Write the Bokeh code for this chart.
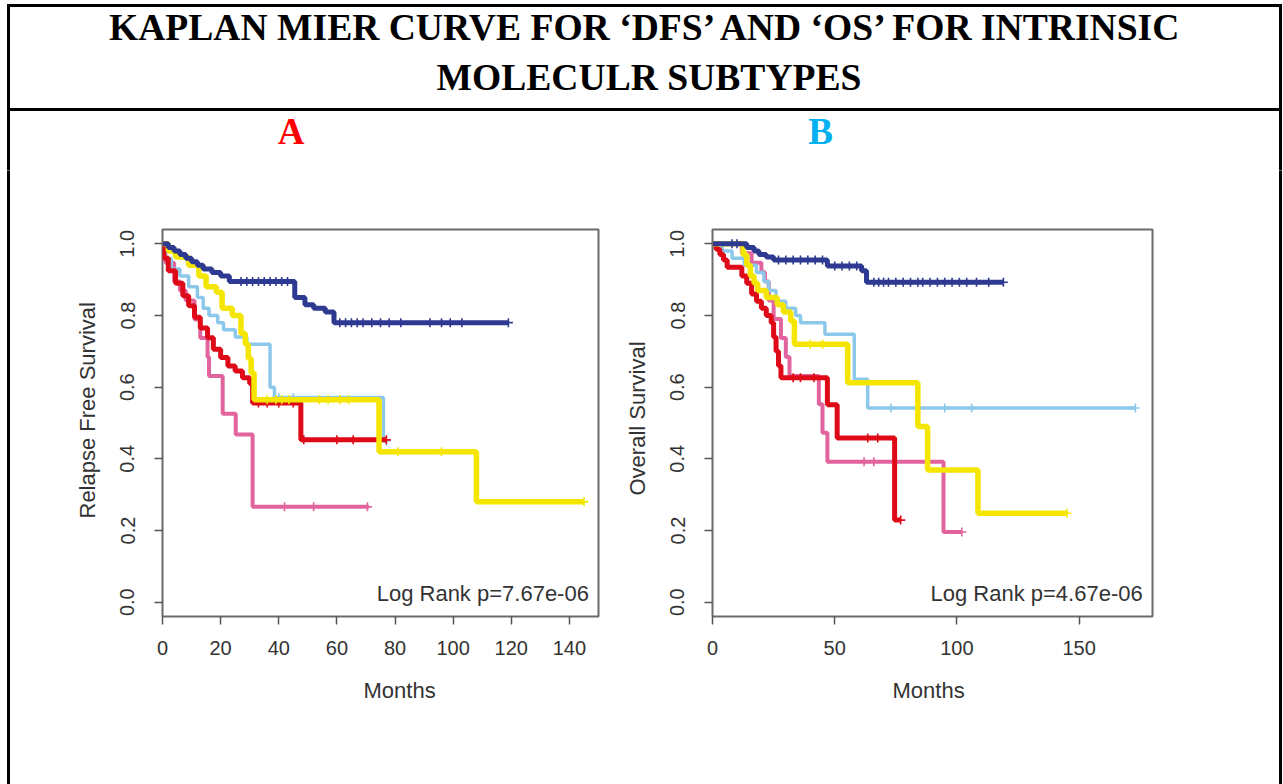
import numpy as np
from bokeh.plotting import figure
from bokeh.models import Range1d, FixedTicker, PrintfTickFormatter, Title
from bokeh.layouts import column, row
from bokeh.core.properties import value
from bokeh.embed import file_html
from bokeh.resources import INLINE

# ---------------- data ----------------
title_lines = ["KAPLAN MIER CURVE FOR \u2018DFS\u2019 AND \u2018OS\u2019 FOR INTRINSIC", "MOLECULR SUBTYPES"]
panel_labels = ["A", "B"]

# Panel A : Relapse free survival
navy_A_t = [0, 2, 4, 6, 8, 10, 12, 14, 17, 20, 23, 45.5, 49, 52, 56, 59]
navy_A_s = [1.0, 0.99, 0.98, 0.97, 0.96, 0.95, 0.94, 0.93, 0.92, 0.91, 0.895, 0.85, 0.83, 0.82, 0.81, 0.78]
navy_A_end = 119
navy_A_c = [27, 29, 31, 33, 35, 37, 39, 41, 43, 61, 63, 65, 67, 69, 72, 75, 78, 82, 92, 96, 99, 103, 119]

sky_A_t = [0, 1, 3, 6, 9, 12, 14, 16, 19, 21, 25, 29, 37, 38.5, 76]
sky_A_s = [1.0, 0.96, 0.93, 0.91, 0.88, 0.85, 0.82, 0.80, 0.78, 0.76, 0.74, 0.72, 0.60, 0.571, 0.45]
sky_A_end = 77
sky_A_c = [40, 45, 77]

yellow_A_t = [0, 2, 4.5, 9, 12.5, 15, 18.5, 20.5, 24, 27, 28.5, 29.5, 30.5, 31.5, 74.5, 108]
yellow_A_s = [1.0, 0.98, 0.963, 0.94, 0.91, 0.88, 0.865, 0.82, 0.80, 0.75, 0.72, 0.68, 0.64, 0.565, 0.42, 0.28]
yellow_A_end = 145
yellow_A_c = [36, 39, 41, 43.5, 54, 57, 61, 64, 81, 96, 145]

red_A_t = [0, 0.5, 2, 4.5, 7, 9, 11, 13, 15.5, 17.5, 20, 22.5, 25, 27.5, 30, 31, 47.6]
red_A_s = [1.0, 0.96, 0.925, 0.89, 0.855, 0.827, 0.795, 0.765, 0.738, 0.706, 0.683, 0.659, 0.645, 0.626, 0.61, 0.556, 0.453]
red_A_end = 77
red_A_c = [33, 36, 40, 45, 48.6, 60, 65.6, 77]

pink_A_t = [0, 1, 4, 6, 8, 11, 13, 15.5, 16, 20.7, 25.2, 31]
pink_A_s = [1.0, 0.947, 0.895, 0.87, 0.842, 0.789, 0.737, 0.684, 0.631, 0.526, 0.468, 0.266]
pink_A_end = 71
pink_A_c = [42, 52, 70.5]

# Panel B : Overall survival
navy_B_t = [0, 14, 17, 19, 22, 25, 47, 61, 63]
navy_B_s = [1.0, 0.99, 0.98, 0.97, 0.963, 0.955, 0.938, 0.925, 0.893]
navy_B_end = 119
navy_B_c = [8, 10, 27, 30, 33, 36, 39, 42, 45, 50, 53, 56, 59, 66, 68, 70, 72, 75, 78,
            81, 84, 86, 89, 92, 95, 98, 101, 104, 108, 113, 119]

sky_B_t = [0, 4, 8, 13, 18, 21, 23, 26, 30, 34, 36, 46, 58, 63.5]
sky_B_s = [1.0, 0.98, 0.96, 0.94, 0.92, 0.895, 0.87, 0.84, 0.82, 0.80, 0.78, 0.748, 0.622, 0.542]
sky_B_end = 173
sky_B_c = [73, 95, 106, 173]

yellow_B_t = [0, 12.5, 14, 15.5, 17, 18.5, 22, 26.5, 29, 32, 33.5, 55.3, 84, 88, 108.6]
yellow_B_s = [1.0, 0.97, 0.94, 0.91, 0.89, 0.87, 0.85, 0.83, 0.81, 0.785, 0.72, 0.612, 0.49, 0.369, 0.248]
yellow_B_end = 145
yellow_B_c = [40, 45, 145]

red_B_t = [0, 1.5, 3, 4.5, 6, 12, 14, 16, 18, 20, 22, 24, 25, 26, 27, 28, 47, 51, 74.5]
red_B_s = [1.0, 0.985, 0.97, 0.955, 0.935, 0.91, 0.89, 0.86, 0.84, 0.82, 0.80, 0.78, 0.74, 0.70, 0.66, 0.626, 0.551, 0.458, 0.229]
red_B_end = 77
red_B_c = [33, 36, 41.5, 63.5, 67.6, 77]

pink_B_t = [0, 12, 16, 20, 21.5, 23, 25, 28, 30, 31.5, 43.5, 45, 47, 94.5]
pink_B_s = [1.0, 0.974, 0.947, 0.921, 0.895, 0.842, 0.79, 0.737, 0.684, 0.631, 0.552, 0.473, 0.392, 0.196]
pink_B_end = 102
pink_B_c = [62, 66, 102]

xticks_A = [0, 20, 40, 60, 80, 100, 120, 140]
xticks_B = [0, 50, 100, 150]
yticks = [0.0, 0.2, 0.4, 0.6, 0.8, 1.0]
pvalue_A = "Log Rank p=7.67e-06"
pvalue_B = "Log Rank p=4.67e-06"

# ---------------- styles ----------------
C_NAVY = "#2E3A92"
C_SKY = "#8CC8EA"
C_RED = "#DF0A17"
C_PINK = "#E2649E"
C_YEL = "#F4E600"
SANS = "Liberation Sans"
SERIF = "Liberation Serif"
TXT = "#333333"

W_TOTAL = 1282
TOP_H = 170
ROW_H = 614


def draw_curve(p, t, s, end, cens, color, lw):
    xs = list(t) + [end]
    ys = list(s) + [s[-1]]
    p.step(xs, ys, mode="after", line_color=color, line_width=lw)
    tt = np.array(t, dtype=float)
    ss = np.array(s, dtype=float)
    idx = np.searchsorted(tt, np.array(cens, dtype=float), side="right") - 1
    p.scatter(cens, ss[idx], marker="cross", size=9, line_color=color, line_width=1.6)


def km_panel(width, xmax, mbl, mbr, xticks, ylabel, ptext, ptext_x, curves, xoff, yoff):
    p = figure(width=width, height=ROW_H, x_range=Range1d(0, xmax), y_range=Range1d(-0.04, 1.04),
               min_border_left=mbl, min_border_right=mbr, min_border_top=59, min_border_bottom=168,
               toolbar_location=None, output_backend="svg")
    p.grid.visible = False
    p.background_fill_color = "white"
    p.border_fill_color = "white"
    p.outline_line_color = "#6a6a6a"
    p.outline_line_width = 2
    for ax in (p.xaxis[0], p.yaxis[0]):
        ax.axis_line_color = None
        ax.major_tick_line_color = "#555555"
        ax.major_tick_line_width = 1.5
        ax.major_tick_out = 8
        ax.major_tick_in = 0
        ax.minor_tick_line_color = None
        ax.major_label_text_font = SANS
        ax.major_label_text_font_size = "20px"
        ax.major_label_text_color = TXT
    p.xaxis.ticker = FixedTicker(ticks=xticks)
    p.yaxis.ticker = FixedTicker(ticks=yticks)
    p.yaxis.formatter = PrintfTickFormatter(format="%.1f")
    p.yaxis.major_label_orientation = "vertical"
    p.xaxis.major_label_standoff = 16
    p.yaxis.major_label_standoff = 20
    # axis titles (as titles so they can be placed like the original)
    xt = Title(text="Months", align="left", offset=xoff, standoff=36,
               text_font=SANS, text_font_size="22px", text_font_style="normal", text_color=TXT)
    p.add_layout(xt, "below")
    yt = Title(text=ylabel, align="left", offset=yoff, standoff=36,
               text_font=SANS, text_font_size="22px", text_font_style="normal", text_color=TXT)
    p.add_layout(yt, "left")
    for (t, s, end, c, col, lw) in curves:
        draw_curve(p, t, s, end, c, col, lw)
    p.text(x=[ptext_x], y=[0.024], text=[ptext], text_align="right", text_baseline="middle",
           text_font=value(SANS), text_font_size="22px", text_color=TXT)
    return p


pA = km_panel(560, 150, 122, 2, xticks_A, "Relapse Free Survival", pvalue_A, 146.7, [
    (pink_A_t, pink_A_s, pink_A_end, pink_A_c, C_PINK, 4),
    (sky_A_t, sky_A_s, sky_A_end, sky_A_c, C_SKY, 3.5),
    (red_A_t, red_A_s, red_A_end, red_A_c, C_RED, 5),
    (yellow_A_t, yellow_A_s, yellow_A_end, yellow_A_c, C_YEL, 5.5),
    (navy_A_t, navy_A_s, navy_A_end, navy_A_c, C_NAVY, 5),
], 201, 98)

pB = km_panel(650, 180, 112, 98, xticks_B, "Overall Survival", pvalue_B, 176, [
    (pink_B_t, pink_B_s, pink_B_end, pink_B_c, C_PINK, 4),
    (sky_B_t, sky_B_s, sky_B_end, sky_B_c, C_SKY, 3.5),
    (red_B_t, red_B_s, red_B_end, red_B_c, C_RED, 5),
    (yellow_B_t, yellow_B_s, yellow_B_end, yellow_B_c, C_YEL, 5.5),
    (navy_B_t, navy_B_s, navy_B_end, navy_B_c, C_NAVY, 5),
], 180, 121)

# ---------------- header (table rows) ----------------
top = figure(width=W_TOTAL, height=TOP_H, x_range=Range1d(0, W_TOTAL), y_range=Range1d(TOP_H, 0),
             min_border=0, toolbar_location=None, output_backend="svg",
             x_axis_location=None, y_axis_location=None)
top.grid.visible = False
top.outline_line_color = None
top.background_fill_color = "white"
top.border_fill_color = "white"
top.quad(left=[7, 7, 1279, 7], right=[1281, 9, 1281, 1281],
         top=[4, 4, 4, 108], bottom=[6, TOP_H, TOP_H, 110], color="black")
top.text(x=[647.5, 648.5], y=[27, 77], text=title_lines, text_align="center", text_baseline="middle",
         text_font=value(SERIF), text_font_style="bold", text_font_size="37.6px", text_color="black")
top.text(x=[290.5, 820], y=[131, 131], text=panel_labels, text_align="center", text_baseline="middle",
         text_font=value(SERIF), text_font_style="bold", text_font_size="37px",
         text_color=["#FF0000", "#00B0F0"])


def edge(width, line_left):
    f = figure(width=width, height=ROW_H, x_range=Range1d(0, width), y_range=Range1d(0, ROW_H), min_border=0,
               toolbar_location=None, output_backend="svg", x_axis_location=None, y_axis_location=None)
    f.frame_align = False
    f.grid.visible = False
    f.outline_line_color = None
    f.background_fill_color = "white"
    f.border_fill_color = "white"
    f.quad(left=[line_left], right=[line_left + 2], bottom=[0], top=[ROW_H], color="black")
    return f


layout = column(top, row(edge(40, 7), pA, pB, edge(32, 29)))
open("out.html", "w").write(file_html(layout, INLINE))
